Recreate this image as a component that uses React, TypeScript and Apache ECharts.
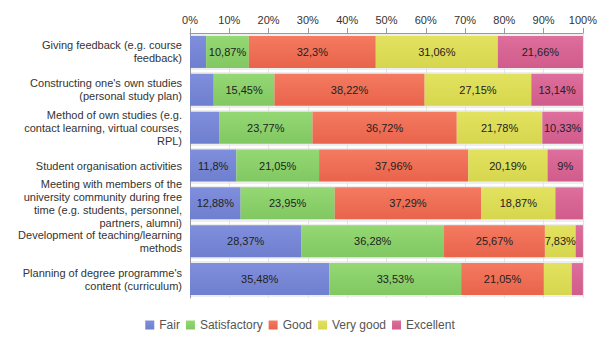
import React, { useEffect, useRef } from "react";
import * as echarts from "echarts";

const categories = [
  "Giving feedback (e.g. course\nfeedback)",
  "Constructing one's own studies\n(personal study plan)",
  "Method of own studies (e.g.\ncontact learning, virtual courses,\nRPL)",
  "Student organisation activities",
  "Meeting with members of the\nuniversity community during free\ntime (e.g. students, personnel,\npartners, alumni)",
  "Development of teaching/learning\nmethods",
  "Planning of degree programme's\ncontent (curriculum)",
];

const seriesNames = ["Fair", "Satisfactory", "Good", "Very good", "Excellent"];
const fair = [4.11, 6.04, 7.4, 11.8, 12.88, 28.37, 35.48];
const satisfactory = [10.87, 15.45, 23.77, 21.05, 23.95, 36.28, 33.53];
const good = [32.3, 38.22, 36.72, 37.96, 37.29, 25.67, 21.05];
const veryGood = [31.06, 27.15, 21.78, 20.19, 18.87, 7.83, 7.1];
const excellent = [21.66, 13.14, 10.33, 9, 7.01, 1.85, 2.84];
const xTicks = [0, 10, 20, 30, 40, 50, 60, 70, 80, 90, 100];

const colors = [
  ["#7f8fdc", "#6f7fcf"],
  ["#93d873", "#82c862"],
  ["#f47a60", "#e8644b"],
  ["#e2e260", "#d6d64e"],
  ["#de6e9c", "#d05c8b"],
];

export default function App() {
  const ref = useRef<HTMLDivElement>(null);
  useEffect(() => {
    if (!ref.current) return;
    const chart = echarts.init(ref.current, undefined, { renderer: "svg" });
    const data = [fair, satisfactory, good, veryGood, excellent];
    const font = "'Liberation Sans', Arial, sans-serif";
    chart.setOption({
      animation: false,
      textStyle: { fontFamily: font },
      grid: {
        left: 190,
        right: 15,
        top: 33,
        height: 265,
        show: true,
        backgroundColor: "#eeeeee",
        borderWidth: 0,
      },
      legend: {
        bottom: 3,
        left: "center",
        itemWidth: 9,
        itemHeight: 9,
        itemGap: 6,
        icon: "rect",
        textStyle: { fontSize: 12, color: "#555", fontFamily: font },
        data: seriesNames,
      },
      xAxis: {
        type: "value",
        position: "top",
        min: xTicks[0],
        max: xTicks[xTicks.length - 1],
        interval: 10,
        axisLine: { show: true, lineStyle: { color: "#999" } },
        axisTick: { show: true, length: 5, lineStyle: { color: "#999" } },
        axisLabel: {
          formatter: "{value}%",
          color: "#333",
          fontSize: 11,
          margin: 8,
          fontFamily: font,
        },
        splitLine: { show: true, lineStyle: { color: "#e4e4e4", width: 1 } },
      },
      yAxis: {
        type: "category",
        inverse: true,
        data: categories,
        axisLine: { show: true, lineStyle: { color: "#999" } },
        axisTick: { show: false },
        axisLabel: {
          color: "#333",
          fontSize: 11,
          lineHeight: 13,
          align: "right",
          margin: 8,
          fontFamily: font,
        },
        splitLine: { show: true, lineStyle: { color: "#ffffff", width: 2 } },
      },
      series: seriesNames.map((name, i) => ({
        name,
        type: "bar",
        stack: "total",
        barWidth: 32,
        data: data[i],
        itemStyle: {
          color: new echarts.graphic.LinearGradient(0, 0, 0, 1, [
            { offset: 0, color: colors[i][0] },
            { offset: 1, color: colors[i][1] },
          ]),
        },
        label: {
          show: true,
          position: "inside",
          color: "#222",
          fontSize: 11,
          fontFamily: font,
          formatter: (p: any) =>
            p.value >= 7.5 ? String(p.value).replace(".", ",") + "%" : "",
        },
      })),
    });
    return () => chart.dispose();
  }, []);
  return (
    <div
      ref={ref}
      style={{ position: "absolute", left: 0, top: 0, width: 600, height: 339 }}
    />
  );
}
